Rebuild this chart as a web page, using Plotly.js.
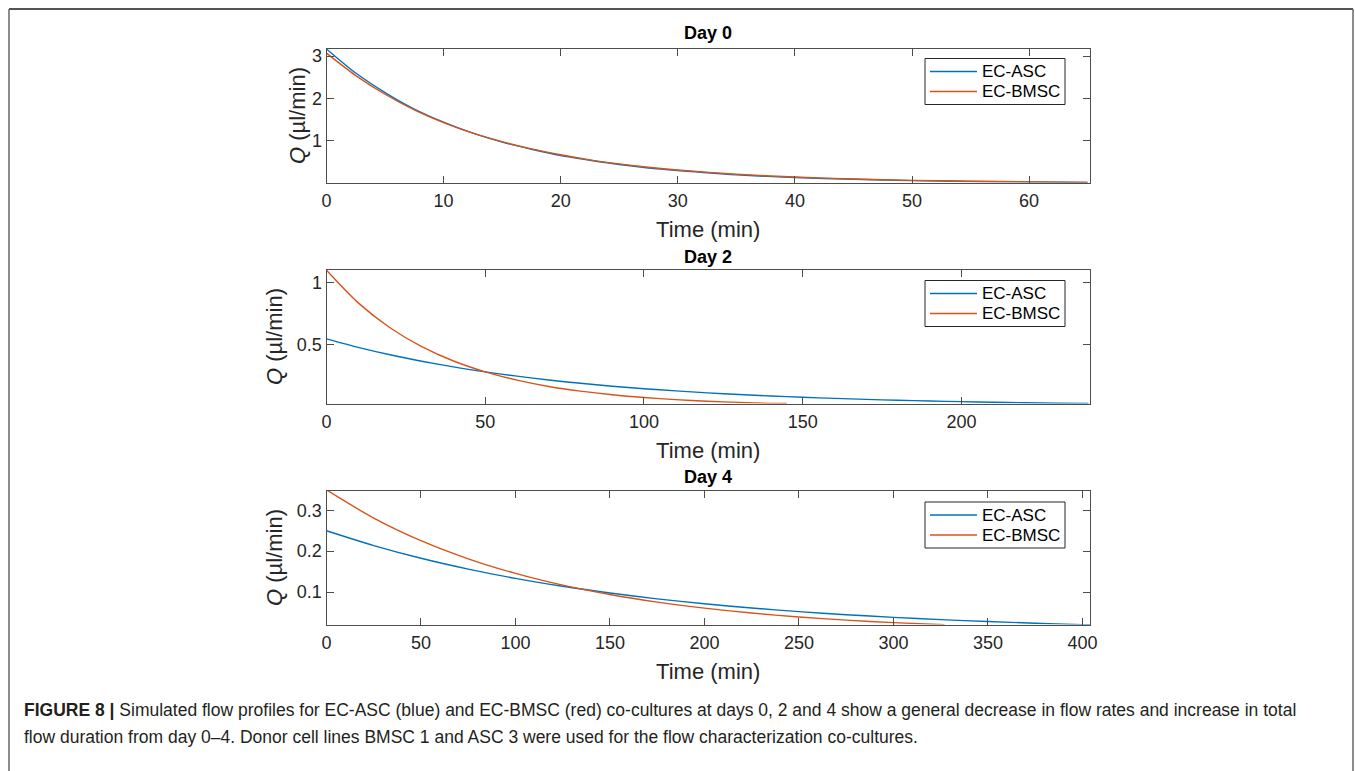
<!DOCTYPE html>
<html>
<head>
<meta charset="utf-8">
<script src="https://cdn.plot.ly/plotly-3.0.1.min.js"></script>
<style>html,body{margin:0;padding:0;background:#fff;}#chart{width:1355px;height:771px;}</style>
</head>
<body>
<div id="chart"></div>
<script>
// ---- Data ----
const seriesNames = ["EC-ASC", "EC-BMSC"];

// Day 0
const day0_t_asc  = [0,2.5,5,7.5,10,12.5,15,17.5,20,22.5,25,27.5,30,35,40,45,50,55,60,65];
const day0_q_asc  = [3.17,2.60,2.14,1.75,1.44,1.18,0.97,0.80,0.65,0.54,0.44,0.36,0.30,0.20,0.134,0.091,0.061,0.041,0.028,0.016];
const day0_t_bmsc = [0,2.5,5,7.5,10,12.5,15,17.5,20,22.5,25,27.5,30,35,40,45,50,55,60,65];
const day0_q_bmsc = [3.07,2.54,2.10,1.73,1.43,1.18,0.98,0.81,0.67,0.55,0.455,0.375,0.31,0.212,0.145,0.099,0.067,0.046,0.031,0.018];

// Day 2
const day2_t_asc  = [0,10,20,30,40,50,60,70,80,90,100,110,120,130,140,150,160,170,180,190,200,210,220,230,240];
const day2_q_asc  = [0.545,0.476,0.416,0.364,0.318,0.278,0.243,0.212,0.1855,0.162,0.1417,0.124,0.108,0.0946,0.0827,0.0722,0.0632,0.0552,0.0482,0.0422,0.0368,0.0322,0.0282,0.0246,0.022];
const day2_t_bmsc = [0,10,20,30,40,50,60,70,80,90,100,110,120,130,140,145];
const day2_q_bmsc = [1.10,0.836,0.635,0.482,0.366,0.278,0.211,0.160,0.122,0.0926,0.0703,0.0535,0.0406,0.0308,0.0234,0.022];

// Day 4
const day4_t_asc  = [0,25,50,75,100,125,150,175,200,225,250,275,300,325,350,375,400,404];
const day4_q_asc  = [0.25,0.2137,0.1826,0.1561,0.1334,0.1140,0.0975,0.0833,0.0712,0.0609,0.052,0.0445,0.038,0.0325,0.0278,0.0237,0.0203,0.020];
const day4_t_bmsc = [0,25,50,75,100,125,150,175,200,225,250,275,300,327];
const day4_q_bmsc = [0.35,0.281,0.2256,0.1812,0.1455,0.1168,0.0938,0.0753,0.0605,0.0485,0.039,0.0313,0.0251,0.020];

const panelTitles = ["Day 0", "Day 2", "Day 4"];
const xTicks = [[0,10,20,30,40,50,60],[0,50,100,150,200],[0,50,100,150,200,250,300,350,400]];
const yTicks = [[1,2,3],[0.5,1],[0.1,0.2,0.3]];
const yTickText = [["1","2","3"],["0.5","1"],["0.1","0.2","0.3"]];
const xRanges = [[0,65.2],[0,240.5],[0,404]];
const yRanges = [[0.016,3.18],[0.022,1.106],[0.0205,0.3485]];
const xTitle = "Time (min)";
const yTitle = "<i>Q</i> (µl/min)";

const captionBold = "FIGURE 8 |";
const captionLine1 = " Simulated flow profiles for EC-ASC (blue) and EC-BMSC (red) co-cultures at days 0, 2 and 4 show a general decrease in flow rates and increase in total";
const captionLine2 = "flow duration from day 0–4. Donor cell lines BMSC 1 and ASC 3 were used for the flow characterization co-cultures.";

// ---- Layout helpers ----
const W = 1355, H = 771;
const px = v => v / W;
const py = v => 1 - v / H;
const FONT = "Liberation Sans, Arial, Helvetica, sans-serif";
const COLORS = ["#0072BD", "#D95319"];
const AX = "#4d4d4d";

const panels = [
  {top: 48.5, bottom: 182.5, title: 30, legTop: 58.5, ystand: 0},
  {top: 269.5, bottom: 403.5, title: 254, legTop: 280.5, ystand: 8},
  {top: 490.5, bottom: 624.5, title: 474, legTop: 502, ystand: 8}
];
const left = 326.5, right = 1090;

const dataSets = [
  [[day0_t_asc, day0_q_asc],[day0_t_bmsc, day0_q_bmsc]],
  [[day2_t_asc, day2_q_asc],[day2_t_bmsc, day2_q_bmsc]],
  [[day4_t_asc, day4_q_asc],[day4_t_bmsc, day4_q_bmsc]]
];

const traces = [];
const layout = {
  width: W, height: H, autosize: false,
  margin: {l:0, r:0, t:0, b:0},
  paper_bgcolor: "#fff", plot_bgcolor: "#fff",
  font: {family: FONT, color: "#262626", size: 16},
  showlegend: false,
  annotations: [], shapes: []
};

dataSets.forEach((ds, i) => {
  const sfx = i === 0 ? "" : String(i + 1);
  const p = panels[i];
  ds.forEach((d, j) => {
    traces.push({
      x: d[0], y: d[1], type: "scatter", mode: "lines",
      name: seriesNames[j],
      line: {color: COLORS[j], width: 1.4, shape: "spline", smoothing: 0.8},
      xaxis: "x" + sfx, yaxis: "y" + sfx, hoverinfo: "x+y"
    });
  });
  layout["xaxis" + sfx] = {
    domain: [px(left), px(right)], anchor: "y" + sfx,
    range: xRanges[i], tickvals: xTicks[i], ticks: "inside", ticklen: 7, tickcolor: AX,
    showline: true, linecolor: AX, linewidth: 1, mirror: "ticks",
    showgrid: false, zeroline: false, ticklabelstandoff: 2,
    tickfont: {size: 18, family: FONT, color: "#262626"},
    title: {text: xTitle, font: {size: 22, family: FONT, color: "#262626"}, standoff: 11}
  };
  layout["yaxis" + sfx] = {
    domain: [py(p.bottom), py(p.top)], anchor: "x" + sfx,
    range: yRanges[i], tickvals: yTicks[i], ticktext: yTickText[i],
    ticks: "inside", ticklen: 7, tickcolor: AX,
    showline: true, linecolor: AX, linewidth: 1, mirror: "ticks",
    showgrid: false, zeroline: false,
    tickfont: {size: 18, family: FONT, color: "#262626"},
    title: {text: yTitle, font: {size: 22, family: FONT, color: "#262626"}, standoff: p.ystand}
  };
  // panel title
  layout.annotations.push({
    text: "<b>" + panelTitles[i] + "</b>", xref: "paper", yref: "paper",
    x: px((left + right) / 2), y: py(p.title + 3), xanchor: "center", yanchor: "middle",
    showarrow: false, font: {size: 18, family: FONT, color: "#000"}
  });
  // legend box (MATLAB-style, drawn in paper coordinates)
  const lx0 = 925, lx1 = 1065, ly0 = p.legTop, ly1 = p.legTop + 46;
  layout.shapes.push({type: "rect", xref: "paper", yref: "paper",
    x0: px(lx0), x1: px(lx1), y0: py(ly1), y1: py(ly0),
    fillcolor: "#fff", line: {color: "#262626", width: 1}});
  seriesNames.forEach((nm, j) => {
    const yy = ly0 + 13 + j * 20;
    layout.shapes.push({type: "line", xref: "paper", yref: "paper",
      x0: px(930), x1: px(977), y0: py(yy), y1: py(yy),
      line: {color: COLORS[j], width: 1.4}});
    layout.annotations.push({
      text: nm, xref: "paper", yref: "paper", x: px(980), y: py(yy),
      xanchor: "left", yanchor: "middle", showarrow: false,
      font: {size: 17, family: FONT, color: "#000"}
    });
  });
});

layout.annotations.push({
  text: "<b>" + captionBold + "</b>" + captionLine1, xref: "paper", yref: "paper",
  x: px(22), y: py(710), xanchor: "left", yanchor: "middle", showarrow: false,
  font: {size: 17.5, family: FONT, color: "#231f20"}
});
layout.annotations.push({
  text: captionLine2, xref: "paper", yref: "paper",
  x: px(22), y: py(737), xanchor: "left", yanchor: "middle", showarrow: false,
  font: {size: 17.5, family: FONT, color: "#231f20"}
});

// outer frame (top, left, right)
layout.shapes.push({type: "line", xref: "paper", yref: "paper", x0: px(9), x1: px(1353), y0: py(9), y1: py(9), line: {color: "#555", width: 2}});
layout.shapes.push({type: "line", xref: "paper", yref: "paper", x0: px(9), x1: px(9), y0: py(9), y1: 0, line: {color: "#666", width: 1.5}});
layout.shapes.push({type: "line", xref: "paper", yref: "paper", x0: px(1353), x1: px(1353), y0: py(9), y1: 0, line: {color: "#666", width: 1.5}});

Plotly.newPlot("chart", traces, layout, {staticPlot: true, displayModeBar: false});
</script>
</body>
</html>
